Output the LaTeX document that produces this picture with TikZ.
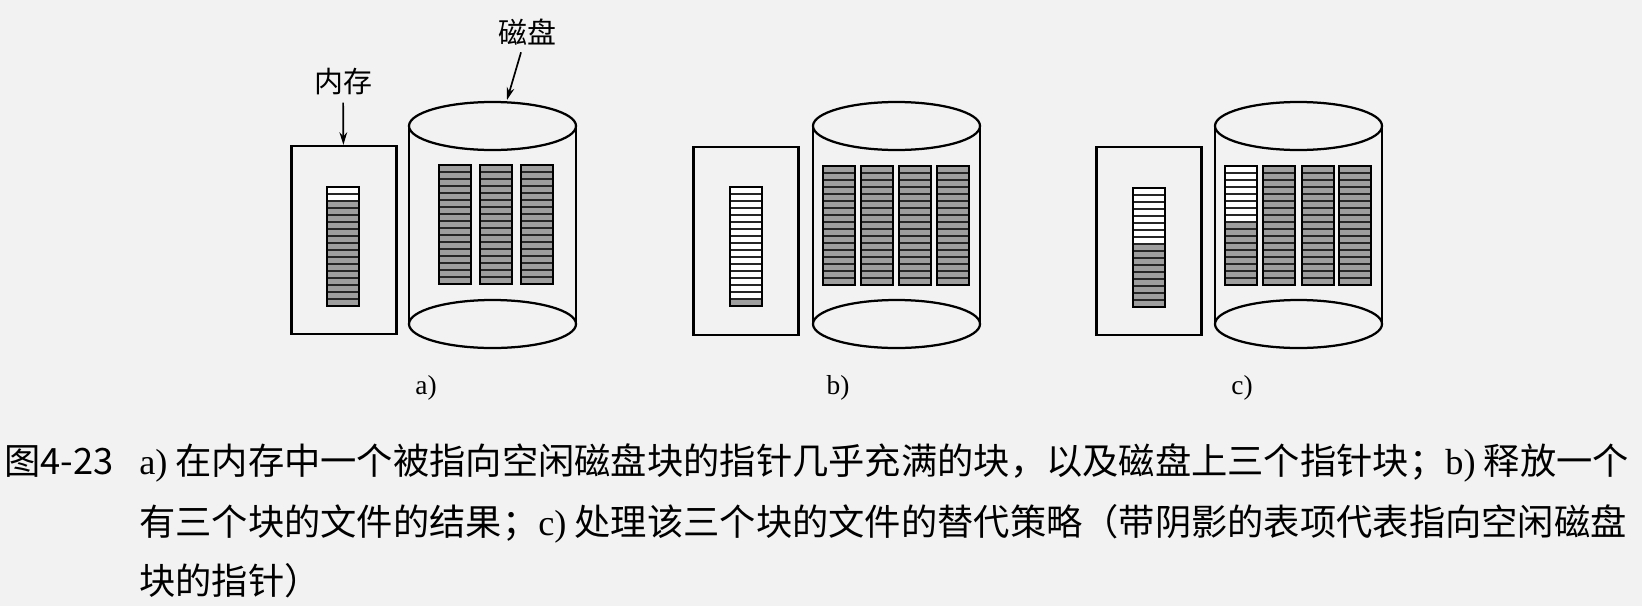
\documentclass[tikz,border=0pt]{standalone}
\usepackage{fontspec}
\setmainfont{Liberation Serif}
\newfontfamily\cjk{Noto Sans CJK SC}
\usetikzlibrary{arrows.meta}

\definecolor{paper}{gray}{0.95}
\definecolor{shade}{gray}{0.62}

% block of pointers: left x, top y, number of empty rows on top
\newcommand{\ptrblock}[3]{%
  \foreach \rr in {1,...,17} {
    \ifnum\rr>#3 \def\rowfill{shade}\else\def\rowfill{white}\fi
    \filldraw[ptrrow, fill=\rowfill] ({#1},{#2+(\rr-1)*7}) rectangle ({#1+32},{#2+\rr*7});
  }
  \draw[blockframe] ({#1},{#2}) rectangle ({#1+32},{#2+119});
}

% disk drawn as a cylinder: centre x
\newcommand{\diskcyl}[1]{%
  \draw[cyl] (#1,126) ellipse [x radius=83.5, y radius=24];
  \draw[cyl] (#1,324) ellipse [x radius=83.5, y radius=24];
  \draw[cyl] ({#1-83.5},126) -- ({#1-83.5},324);
  \draw[cyl] ({#1+83.5},126) -- ({#1+83.5},324);
}

\begin{document}
\begin{tikzpicture}[x=0.025cm, y=-0.025cm,
    mem/.style={rectangle, draw, line width=1.6pt, minimum width=2.62cm, minimum height=4.7cm},
    cyl/.style={line width=1.6pt},
    ptrrow/.style={line width=1pt, draw=black!85},
    blockframe/.style={line width=1.4pt},
    lbl/.style={font=\cjk\fontsize{20.6}{24}\selectfont, inner sep=1pt},
    sublbl/.style={font=\fontsize{19.5}{22}\selectfont},
    captxt/.style={font=\cjk\fontsize{25.8}{30}\selectfont, inner sep=0pt, anchor=base west},
    arrow/.style={-{Stealth[length=9pt, width=5.5pt]}, line width=1.2pt, shorten <=4pt}
  ]
  \useasboundingbox (0,0) rectangle (1642,606);
  \fill[paper] (0,0) rectangle (1642,606);

  % a)
  \node[mem] (mema) at (344,240) {};
  \ptrblock{327}{187}{2}
  \diskcyl{492.5}
  \ptrblock{439}{165}{0}
  \ptrblock{480}{165}{0}
  \ptrblock{521}{165}{0}
  \coordinate (disktop) at (507,100);
  \node[lbl] (memlabel) at (343,82) {内存};
  \node[lbl] (disklabel) at (527,32) {磁盘};
  \draw[arrow] (memlabel) -- (mema);
  \draw[arrow] (disklabel) -- (disktop);
  \node[sublbl] (suba) at (426,388) {a)};

  % b)
  \node[mem] (memb) at (746,241) {};
  \ptrblock{730}{187}{16}
  \diskcyl{896.5}
  \ptrblock{823}{166}{0}
  \ptrblock{861}{166}{0}
  \ptrblock{899}{166}{0}
  \ptrblock{937}{166}{0}
  \node[sublbl] (subb) at (838,388) {b)};

  % c)
  \node[mem] (memc) at (1149,241) {};
  \ptrblock{1133}{188}{8}
  \diskcyl{1298.5}
  \ptrblock{1225}{166}{8}
  \ptrblock{1263}{166}{0}
  \ptrblock{1302}{166}{0}
  \ptrblock{1339}{166}{0}
  \node[sublbl] (subc) at (1242,388) {c)};

  % caption
  \node[captxt] (fignum) at (4,474) {图4-23};
  \node[captxt] (capline1) at (139,474) {{\rmfamily a)} 在内存中一个被指向空闲磁盘块的指针几乎充满的块，以及磁盘上三个指针块；{\rmfamily b)} 释放一个};
  \node[captxt] (capline2) at (139,535) {有三个块的文件的结果；{\rmfamily c)} 处理该三个块的文件的替代策略（带阴影的表项代表指向空闲磁盘};
  \node[captxt] (capline3) at (139,594) {块的指针）};
\end{tikzpicture}
\end{document}
